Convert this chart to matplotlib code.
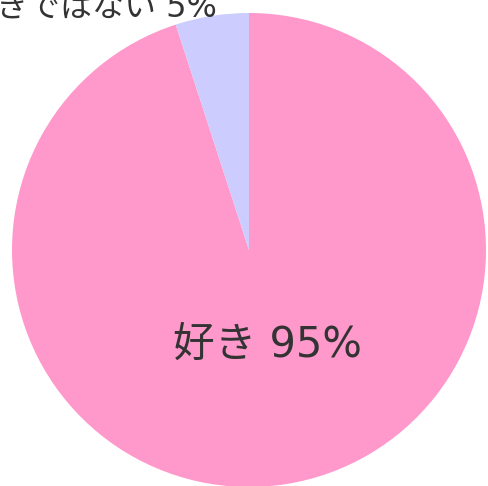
import matplotlib
matplotlib.use("Agg")
import matplotlib.pyplot as plt

plt.rcParams['font.family'] = ['DejaVu Sans', 'Noto Sans CJK JP']

labels = ["好き 95%", "好きではない 5%"]
values = [95, 5]
colors = ["#FF99CC", "#CCCCFF"]

fig = plt.figure(figsize=(4.88, 4.86), dpi=100)
ax = fig.add_axes([12/488, (486-487)/486, 474/488, 474/486])
wedges, texts = ax.pie(values, colors=colors, startangle=90, counterclock=False,
                       labels=labels, labeldistance=0.4,
                       textprops=dict(fontsize=30, color="#333333"),
                       wedgeprops=dict(linewidth=0))
ax.set_xlim(-1, 1)
ax.set_ylim(-1, 1)
ax.set_aspect('equal')
texts[0].set_position((0.076, -0.40))
texts[0].set_ha('center')
texts[0].set_va('center')
texts[1].set_position((-0.135, 0.985))
texts[1].set_ha('right')
texts[1].set_va('baseline')
texts[1].set_fontsize(23)
fig.savefig("out.png", dpi=100)
